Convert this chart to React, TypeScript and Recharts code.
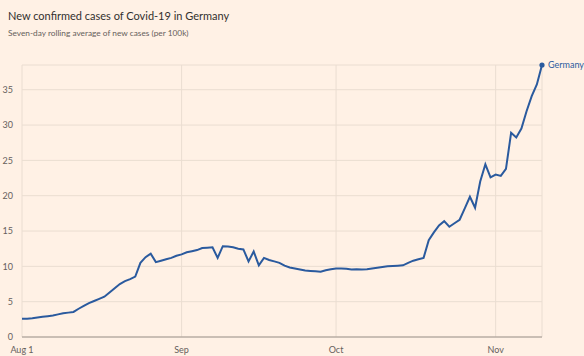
import React from 'react';
import { LineChart, Line, XAxis, YAxis, CartesianGrid } from 'recharts';

// seven-day rolling average per 100k, one value per day from Aug 1 2021 to Nov 10 2021
const cases = [
  2.6, 2.6, 2.65, 2.75, 2.85, 2.95, 3.05, 3.2, 3.35, 3.45,
  3.55, 4.0, 4.4, 4.8, 5.1, 5.4, 5.7, 6.3, 6.9, 7.5,
  7.9, 8.2, 8.55, 10.5, 11.3, 11.8, 10.6, 10.8, 11.0, 11.2,
  11.5, 11.7, 12.0, 12.15, 12.3, 12.6, 12.65, 12.7, 11.2, 12.85,
  12.8, 12.7, 12.5, 12.4, 10.7, 12.1, 10.15, 11.2, 10.9, 10.7,
  10.5, 10.1, 9.85, 9.7, 9.55, 9.4, 9.35, 9.3, 9.25, 9.45,
  9.6, 9.7, 9.7, 9.65, 9.55, 9.6, 9.55, 9.6, 9.7, 9.8,
  9.9, 10.0, 10.05, 10.1, 10.15, 10.5, 10.8, 11.0, 11.2, 13.7,
  14.8, 15.8, 16.4, 15.6, 16.1, 16.6, 18.2, 19.85, 18.3, 22.0,
  24.45, 22.6, 23.0, 22.8, 23.8, 28.9, 28.25, 29.5, 31.95, 34.1,
  35.75, 38.5,
];

const tickDays = [0, 31, 61, 92];
const tickLabels = [['Aug 1', '2021'], ['Sep'], ['Oct'], ['Nov']];
const yTicks = [0, 5, 10, 15, 20, 25, 30, 35];
const seriesName = 'Germany';

const data = cases.map((v, i) => ({ day: i, value: v }));

const FONT = 'Lato, "Open Sans", sans-serif';
const BLUE = '#2a5a9e';

const XTick = (props: any) => {
  const { x, y, payload } = props;
  const idx = tickDays.indexOf(payload.value);
  const lines = tickLabels[idx] || [];
  return (
    <text x={x} y={y} textAnchor="middle" fill="#66605c" fontSize={9} fontFamily={FONT}>
      {lines.map((l, i) => (
        <tspan key={i} x={x} dy={i === 0 ? 8 : 10.5}>{l}</tspan>
      ))}
    </text>
  );
};

const EndDot = (props: any) => {
  const { cx, cy, index } = props;
  if (index !== cases.length - 1) return <g key={index} />;
  return (
    <g key={index}>
      <circle cx={cx} cy={cy} r={2.6} fill={BLUE} />
      <text x={cx + 6} y={cy + 3.2} fill={BLUE} fontSize={9} fontFamily={FONT}>{seriesName}</text>
    </g>
  );
};

export default function App() {
  return (
    <div style={{ position: 'absolute', left: 0, top: 0, width: 584, height: 356, background: '#fff1e5', overflow: 'hidden', fontFamily: FONT }}>
      <div style={{ position: 'absolute', left: 8, top: 9, fontSize: 11, color: '#33302e', whiteSpace: 'nowrap' }}>
        New confirmed cases of Covid-19 in Germany
      </div>
      <div style={{ position: 'absolute', left: 8, top: 28, fontSize: 8.3, color: '#66605c', whiteSpace: 'nowrap' }}>
        Seven-day rolling average of new cases (per 100k)
      </div>
      <div style={{ position: 'absolute', left: 0, top: 0 }}>
        <LineChart width={584} height={356} data={data} margin={{ top: 65, right: 42, bottom: 0, left: 0 }}>
          <CartesianGrid stroke="#eaddd1" strokeWidth={1} />
          <XAxis
            dataKey="day"
            type="number"
            domain={[0, 101]}
            ticks={tickDays}
            tick={<XTick />}
            tickLine={false}
            axisLine={{ stroke: '#9e958d' }}
            height={19}
            interval={0}
          />
          <YAxis
            type="number"
            domain={[0, 38.5]}
            ticks={yTicks}
            width={22}
            tickLine={false}
            axisLine={false}
            tickMargin={3}
            tick={{ fill: '#66605c', fontSize: 9, fontFamily: FONT }}
          />
          <Line
            type="linear"
            dataKey="value"
            stroke={BLUE}
            strokeWidth={2}
            dot={<EndDot />}
            activeDot={false}
            isAnimationActive={false}
          />
        </LineChart>
      </div>
    </div>
  );
}
